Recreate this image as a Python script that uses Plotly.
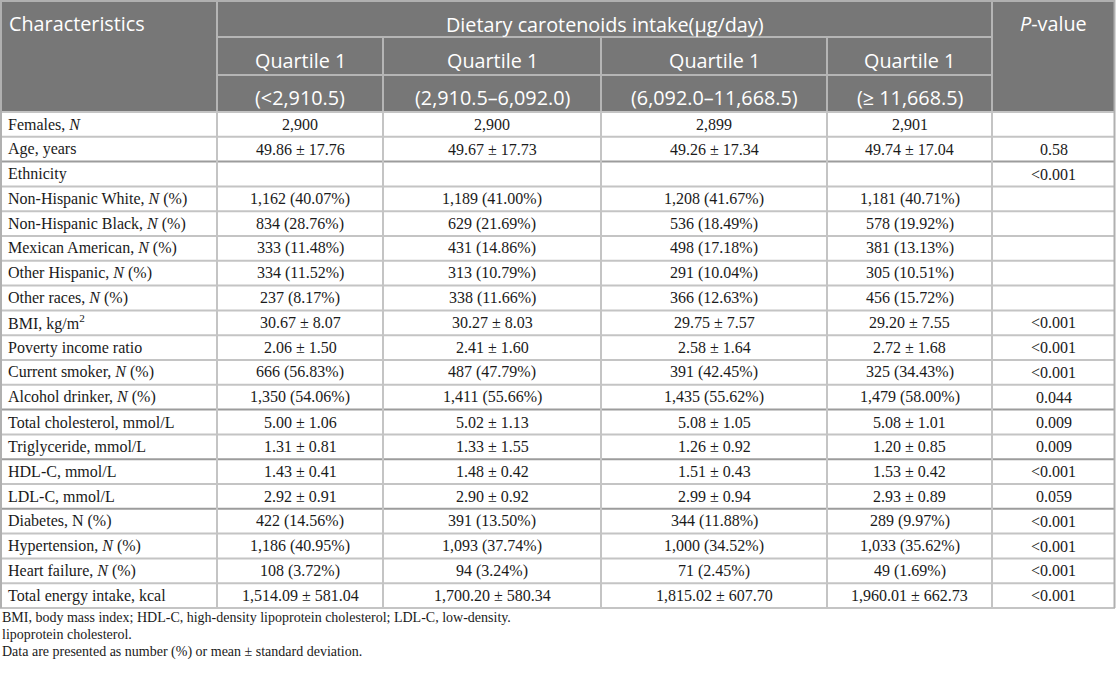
import plotly.graph_objects as go

# ---- table content ----
characteristics = [
    "Females, <i>N</i>", "Age, years", "Ethnicity",
    "Non-Hispanic White, <i>N</i> (%)", "Non-Hispanic Black, <i>N</i> (%)",
    "Mexican American, <i>N</i> (%)", "Other Hispanic, <i>N</i> (%)",
    "Other races, <i>N</i> (%)", "BMI, kg/m<sup>2</sup>", "Poverty income ratio",
    "Current smoker, <i>N</i> (%)", "Alcohol drinker, <i>N</i> (%)",
    "Total cholesterol, mmol/L", "Triglyceride, mmol/L", "HDL-C, mmol/L",
    "LDL-C, mmol/L", "Diabetes, N (%)", "Hypertension, <i>N</i> (%)",
    "Heart failure, <i>N</i> (%)", "Total energy intake, kcal",
]
quartile_1 = [
    "2,900", "49.86 ± 17.76", "", "1,162 (40.07%)", "834 (28.76%)",
    "333 (11.48%)", "334 (11.52%)", "237 (8.17%)", "30.67 ± 8.07", "2.06 ± 1.50",
    "666 (56.83%)", "1,350 (54.06%)", "5.00 ± 1.06", "1.31 ± 0.81", "1.43 ± 0.41",
    "2.92 ± 0.91", "422 (14.56%)", "1,186 (40.95%)", "108 (3.72%)", "1,514.09 ± 581.04",
]
quartile_2 = [
    "2,900", "49.67 ± 17.73", "", "1,189 (41.00%)", "629 (21.69%)",
    "431 (14.86%)", "313 (10.79%)", "338 (11.66%)", "30.27 ± 8.03", "2.41 ± 1.60",
    "487 (47.79%)", "1,411 (55.66%)", "5.02 ± 1.13", "1.33 ± 1.55", "1.48 ± 0.42",
    "2.90 ± 0.92", "391 (13.50%)", "1,093 (37.74%)", "94 (3.24%)", "1,700.20 ± 580.34",
]
quartile_3 = [
    "2,899", "49.26 ± 17.34", "", "1,208 (41.67%)", "536 (18.49%)",
    "498 (17.18%)", "291 (10.04%)", "366 (12.63%)", "29.75 ± 7.57", "2.58 ± 1.64",
    "391 (42.45%)", "1,435 (55.62%)", "5.08 ± 1.05", "1.26 ± 0.92", "1.51 ± 0.43",
    "2.99 ± 0.94", "344 (11.88%)", "1,000 (34.52%)", "71 (2.45%)", "1,815.02 ± 607.70",
]
quartile_4 = [
    "2,901", "49.74 ± 17.04", "", "1,181 (40.71%)", "578 (19.92%)",
    "381 (13.13%)", "305 (10.51%)", "456 (15.72%)", "29.20 ± 7.55", "2.72 ± 1.68",
    "325 (34.43%)", "1,479 (58.00%)", "5.08 ± 1.01", "1.20 ± 0.85", "1.53 ± 0.42",
    "2.93 ± 0.89", "289 (9.97%)", "1,033 (35.62%)", "49 (1.69%)", "1,960.01 ± 662.73",
]
p_value = [
    "", "0.58", "<0.001", "", "", "", "", "", "<0.001", "<0.001",
    "<0.001", "0.044", "0.009", "0.009", "<0.001", "0.059", "<0.001", "<0.001",
    "<0.001", "<0.001",
]

header_first = "Characteristics"
header_group = "Dietary carotenoids intake(μg/day)"
header_last = "<i>P</i>-value"
quartile_names = ["Quartile 1", "Quartile 1", "Quartile 1", "Quartile 1"]
quartile_ranges = ["(<2,910.5)", "(2,910.5–6,092.0)", "(6,092.0–11,668.5)", "(≥ 11,668.5)"]

footnotes = [
    "BMI, body mass index; HDL-C, high-density lipoprotein cholesterol; LDL-C, low-density.",
    "lipoprotein cholesterol.",
    "Data are presented as number (%) or mean ± standard deviation.",
]

# ---- geometry (pixels) ----
W, H = 1116, 679
col_widths = [217, 166, 218, 226, 165, 123]
head_heights = [37, 38, 37]
row_h = 24.8
darker_after = [2, 12, 14, 16]  # rules under these rows look heavier

edges = [0]
for w in col_widths:
    edges.append(edges[-1] + w)
centers = [(a + b) / 2 for a, b in zip(edges[:-1], edges[1:])]
head_y = [0]
for h in head_heights:
    head_y.append(head_y[-1] + h)
body_top = head_y[-1]
n_rows = len(characteristics)
row_y = [body_top + i * row_h for i in range(n_rows + 1)]
row_mid = [(a + b) / 2 for a, b in zip(row_y[:-1], row_y[1:])]

HEAD_BG = "#777777"
HEAD_LINE = "#b5b5b5"
GRID = "#c4c4c4"
GRID_DARK = "#9c9c9c"
head_font = dict(family="Open Sans", size=19.8, color="white")
body_font = dict(family="Liberation Serif", size=16, color="#1a1a1a")
note_font = dict(family="Liberation Serif", size=14, color="#1a1a1a")

fig = go.Figure()
shapes = []


def line(x0, y0, x1, y1, color, width=2):
    shapes.append(dict(type="line", xref="x", yref="y", x0=x0, y0=y0, x1=x1, y1=y1,
                       line=dict(color=color, width=width)))


# header block
shapes.append(dict(type="rect", xref="x", yref="y", x0=edges[0], x1=edges[-1],
                   y0=head_y[0], y1=body_top, fillcolor=HEAD_BG, line_width=0, layer="below"))
line(edges[1], head_y[1], edges[5], head_y[1], HEAD_LINE)
line(edges[1], head_y[2], edges[5], head_y[2], HEAD_LINE)
line(edges[1], head_y[0], edges[1], body_top, HEAD_LINE)
line(edges[5], head_y[0], edges[5], body_top, HEAD_LINE)
for e in edges[2:5]:
    line(e, head_y[1], e, body_top, HEAD_LINE)

# body grid
for i, y in enumerate(row_y):
    color = GRID_DARK if i in darker_after else GRID
    line(edges[0], y, edges[-1], y, color)
for e in edges[1:-1]:
    line(e, body_top, e, row_y[-1], GRID)
line(edges[0] + 1, 0, edges[0] + 1, row_y[-1], "#b0b0b0")
line(edges[-1] - 0.5, 0, edges[-1] - 0.5, row_y[-1], "#b0b0b0")
line(edges[0], 1, edges[-1], 1, "#b0b0b0")

annotations = []


def text(x, y, s, font, anchor="center"):
    annotations.append(dict(x=x, y=y, xref="x", yref="y", text=s, showarrow=False,
                            xanchor=anchor, yanchor="middle", font=font))


# header texts
text(edges[0] + 7, 23, header_first, head_font, "left")
text((edges[1] + edges[5]) / 2, 24, header_group, head_font)
text(centers[5], 23.5, header_last, head_font)
for k in range(4):
    text(centers[k + 1], 60, quartile_names[k], head_font)
    text(centers[k + 1], 97, quartile_ranges[k], head_font)

# body texts
columns = [quartile_1, quartile_2, quartile_3, quartile_4, p_value]
for r in range(n_rows):
    text(edges[0] + 6, row_mid[r], characteristics[r], body_font, "left")
    for c, col in enumerate(columns):
        if col[r]:
            text(centers[c + 1], row_mid[r], col[r], body_font)

# footnotes
for y, s in zip([617, 634, 652], footnotes):
    text(0, y, s, note_font, "left")

fig.update_layout(
    width=W, height=H,
    margin=dict(l=0, r=0, t=0, b=0),
    paper_bgcolor="white", plot_bgcolor="white",
    xaxis=dict(range=[0, W], visible=False, fixedrange=True),
    yaxis=dict(range=[H, 0], visible=False, fixedrange=True),
    shapes=shapes, annotations=annotations,
    showlegend=False,
)
# the page body has a default 8px margin; drop it so the table sits at the corner
fig.write_html("out.html", config=dict(displayModeBar=False),
               post_script="document.body.style.margin='0';")
